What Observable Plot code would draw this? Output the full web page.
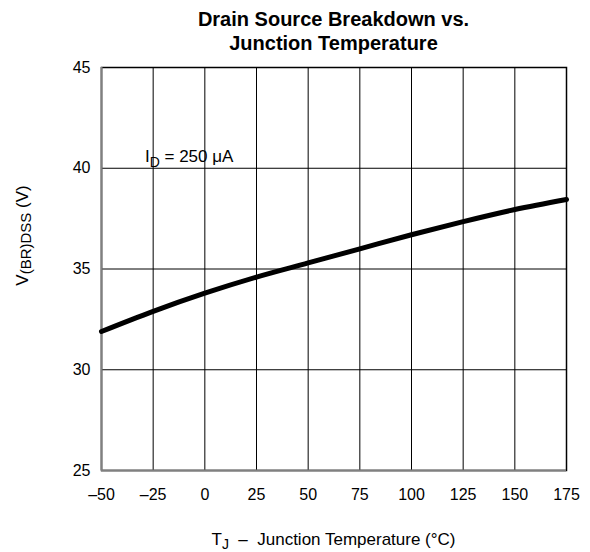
<!DOCTYPE html>
<html>
<head>
<meta charset="utf-8">
<script src="https://cdn.jsdelivr.net/npm/d3@7"></script>
<script src="https://cdn.jsdelivr.net/npm/@observablehq/plot@0.6"></script>
<style>
  html, body { margin: 0; padding: 0; background: #fff; }
  body { width: 590px; font-family: "Liberation Sans", Arial, sans-serif; }
  #title { box-sizing: border-box; height: 56px; padding: 7px 24px 0 101px; text-align: center;
           font-weight: bold; font-size: 20px; line-height: 24px; color: #000; }
</style>
</head>
<body>
<div id="title">Drain Source Breakdown vs.<br>Junction Temperature</div>
<div id="chart"></div>
<script>
// Data
const temperatures = [-50, -25, 0, 25, 50, 75, 100, 125, 150, 175];
const breakdownV   = [31.9, 32.9, 33.8, 34.6, 35.3, 36.0, 36.7, 37.35, 37.95, 38.45];
const xTicks = [-50, -25, 0, 25, 50, 75, 100, 125, 150, 175];
const yTicks = [25, 30, 35, 40, 45];
const annotX = [-29];
const annotY = [40.3];

const data = temperatures.map((t, i) => ({t, v: breakdownV[i]}));
const annot = annotX.map((x, i) => ({x, y: annotY[i]}));
const fmt = d => String(d).replace("-", "\u2013");

const plot = Plot.plot({
  width: 590,
  height: 496,
  marginTop: 11,
  marginBottom: 82,
  marginLeft: 101,
  marginRight: 24,
  style: {fontFamily: '"Liberation Sans", Arial, sans-serif', fontSize: "16px", color: "#000", background: "#fff"},
  x: {domain: [-50, 175], ticks: xTicks, tickFormat: fmt, label: null},
  y: {domain: [25, 45], ticks: yTicks, tickFormat: fmt, label: null},
  marks: [
    Plot.gridX(xTicks, {stroke: "#000", strokeOpacity: 1, strokeWidth: 1}),
    Plot.gridY(yTicks, {stroke: "#000", strokeOpacity: 1, strokeWidth: 1}),
    Plot.frame({stroke: "#000", strokeWidth: 1.5}),
    Plot.ruleX([-50], {stroke: "#808080", strokeWidth: 2}),
    Plot.ruleY([25], {stroke: "#808080", strokeWidth: 2}),
    Plot.line(data, {x: "t", y: "v", stroke: "#000", strokeWidth: 5, curve: "monotone-x"}),
    Plot.text(annot, {x: "x", y: "y", text: () => "ID = 250 \u03bcA", textAnchor: "start", lineAnchor: "bottom", fontSize: 17, fill: "#000"}),
    Plot.axisX(xTicks, {tickSize: 0, tickPadding: 18, tickFormat: fmt, fontSize: 16, label: null}),
    Plot.axisY(yTicks, {tickSize: 0, tickPadding: 11, tickFormat: fmt, fontSize: 16, label: null})
  ]
});
document.getElementById("chart").appendChild(plot);

const svg = d3.select(plot);
const xs = plot.scale("x"), ys = plot.scale("y");
const cx = (xs.range[0] + xs.range[1]) / 2;

// annotation with subscript
svg.selectAll('g[aria-label="text"] text').each(function () {
  const t = d3.select(this);
  t.text(null);
  t.append("tspan").text("I");
  t.append("tspan").attr("font-size", 14).attr("dy", 5).text("D");
  t.append("tspan").attr("dy", -5).text(" = 250 \u03bcA");
});

// x axis label
const xl = svg.append("text")
  .attr("x", cx).attr("y", ys.range[0] + 75)
  .attr("text-anchor", "middle").attr("font-size", 17).attr("fill", "#000")
  .attr("xml:space", "preserve").style("white-space", "pre");
xl.append("tspan").text("T");
xl.append("tspan").attr("font-size", 14).attr("dy", 4).text("J");
xl.append("tspan").attr("dy", -4).text("  \u2013  Junction Temperature (\u00b0C)");

// y axis label
const ylab = svg.append("text")
  .attr("transform", `translate(28,${(ys.range[0] + ys.range[1]) / 2 - 33}) rotate(-90)`)
  .attr("text-anchor", "middle").attr("font-size", 17).attr("fill", "#000");
ylab.append("tspan").text("V");
ylab.append("tspan").attr("font-size", 15).attr("dy", 3).text("(BR)DSS");
ylab.append("tspan").attr("dy", -3).text(" (V)");
</script>
</body>
</html>
